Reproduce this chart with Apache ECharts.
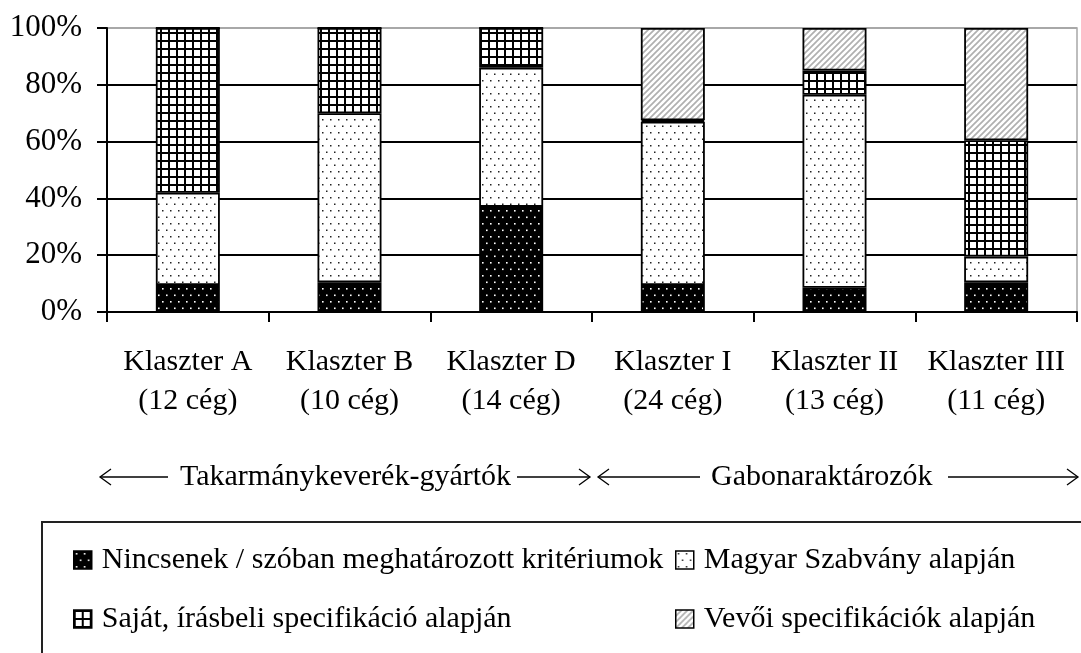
<!DOCTYPE html>
<html>
<head>
<meta charset="utf-8">
<script src="https://cdn.jsdelivr.net/npm/echarts@6/dist/echarts.min.js"></script>
<style>
  body { margin: 0; background: #fff; }
  #chart { width: 1081px; height: 653px; }
</style>
</head>
<body>
<div id="chart"></div>
<script>
// kategóriák és cégszámok
const categories = ['Klaszter A', 'Klaszter B', 'Klaszter D', 'Klaszter I', 'Klaszter II', 'Klaszter III'];
const companyCounts = ['(12 cég)', '(10 cég)', '(14 cég)', '(24 cég)', '(13 cég)', '(11 cég)'];
const yTicks = [0, 20, 40, 60, 80, 100];

// százalékos megoszlás
const nincsenek = [9.5, 10.5, 37, 9.5, 8.5, 10.5];
const magyar = [32.5, 59.5, 49, 57.5, 68, 9];
const sajat = [58, 30, 14, 0.5, 8.5, 41];
const vevoi = [0, 0, 0, 32.5, 15, 39.5];

const seriesNames = [
  'Nincsenek / szóban meghatározott kritériumok',
  'Magyar Szabvány alapján',
  'Saját, írásbeli specifikáció alapján',
  'Vevői specifikációk alapján'
];

const FONT = 'Liberation Serif';

// mintázatok canvas-szal
function dotPattern(bg, fg, size) {
  const c = document.createElement('canvas');
  c.width = 8; c.height = 13;
  const g = c.getContext('2d');
  g.fillStyle = bg; g.fillRect(0, 0, 8, 13);
  g.fillStyle = fg;
  g.fillRect(2, 2, size, size);
  g.fillRect(6, 8.5, size, size);
  return c;
}
function gridPattern() {
  const c = document.createElement('canvas');
  c.width = 8; c.height = 8;
  const g = c.getContext('2d');
  g.fillStyle = '#fff'; g.fillRect(0, 0, 8, 8);
  g.fillStyle = '#000';
  g.fillRect(0, 0, 8, 2);
  g.fillRect(0, 0, 2, 8);
  return c;
}
function hatchPattern() {
  const c = document.createElement('canvas');
  c.width = 6; c.height = 6;
  const g = c.getContext('2d');
  g.fillStyle = '#fff'; g.fillRect(0, 0, 6, 6);
  g.strokeStyle = '#b0b0b0';
  g.lineWidth = 1.7;
  g.beginPath();
  g.moveTo(-1, 7); g.lineTo(7, -1);
  g.moveTo(-4, 4); g.lineTo(4, -4);
  g.moveTo(2, 10); g.lineTo(10, 2);
  g.stroke();
  return c;
}

const fills = [
  { image: dotPattern('#000', '#fff', 1.6), repeat: 'repeat' },
  { image: dotPattern('#fff', '#222', 1.5), repeat: 'repeat' },
  { image: gridPattern(), repeat: 'repeat' },
  { image: hatchPattern(), repeat: 'repeat' }
];
const values = [nincsenek, magyar, sajat, vevoi];

const myChart = echarts.init(document.getElementById('chart'));

// nyilak a csoportfeliratokhoz
function arrow(x1, x2, y, headAt) {
  const h = headAt;
  const dir = h === x1 ? 1 : -1;
  return [
    { type: 'line', shape: { x1: x1, y1: y, x2: x2, y2: y }, style: { stroke: '#000', lineWidth: 1.5 } },
    { type: 'polyline', shape: { points: [[h + dir * 11, y - 8], [h, y], [h + dir * 11, y + 8]] },
      style: { stroke: '#000', lineWidth: 1.3, fill: null } }
  ];
}

const legendPos = [
  { left: 73, top: 545 },
  { left: 675, top: 545 },
  { left: 73, top: 604 },
  { left: 675, top: 604 }
];

const option = {
  animation: false,
  textStyle: { fontFamily: FONT },
  grid: {
    left: 107, right: 4, top: 28, bottom: 341,
    show: true, borderColor: '#a8a8a8', borderWidth: 1.5, backgroundColor: 'transparent'
  },
  xAxis: {
    type: 'category',
    data: categories,
    axisLine: { lineStyle: { color: '#000', width: 2 } },
    axisTick: { show: true, interval: 0, length: 10, lineStyle: { color: '#000', width: 2 } },
    axisLabel: {
      interval: 0,
      margin: 31,
      color: '#000',
      fontSize: 30,
      lineHeight: 39,
      fontFamily: FONT,
      formatter: function (value, idx) {
        return value + '\n' + companyCounts[idx];
      }
    }
  },
  yAxis: {
    type: 'value',
    min: yTicks[0],
    max: yTicks[yTicks.length - 1],
    interval: 20,
    axisLine: { show: true, lineStyle: { color: '#000', width: 2 } },
    axisTick: { show: true, length: 10, lineStyle: { color: '#000', width: 2 } },
    axisLabel: { color: '#000', fontSize: 31, margin: 25, fontFamily: FONT, formatter: '{value}%' },
    splitLine: { lineStyle: { color: ['#000', '#000', '#000', '#000', '#000', '#a8a8a8'], width: 1.8 } }
  },
  legend: legendPos.map(function (p, i) {
    return {
      data: [seriesNames[i]],
      left: p.left,
      top: p.top,
      padding: 0,
      icon: 'rect',
      itemWidth: 18,
      itemHeight: 18,
      selectedMode: false,
      itemStyle: { borderColor: '#000', borderWidth: 1.5 },
      textStyle: { fontSize: 30, fontFamily: FONT, color: '#000', padding: [0, 0, 0, 5], lineHeight: 30 }
    };
  }),
  graphic: [
    { type: 'rect', shape: { x: 42, y: 522, width: 1100, height: 300 },
      style: { fill: null, stroke: '#222', lineWidth: 2 } }
  ].concat(
    arrow(100, 168, 477, 100),
    arrow(517, 590, 477, 590),
    arrow(598, 700, 477, 598),
    arrow(948, 1078, 477, 1078),
    [
      { type: 'text', x: 180, y: 477, style: { text: 'Takarmánykeverék-gyártók', font: '30px "Liberation Serif"', fill: '#000', verticalAlign: 'middle' } },
      { type: 'text', x: 711, y: 477, style: { text: 'Gabonaraktározók', font: '30px "Liberation Serif"', fill: '#000', verticalAlign: 'middle' } }
    ]
  ),
  series: seriesNames.map(function (name, i) {
    return {
      name: name,
      type: 'bar',
      stack: 'total',
      barWidth: 64,
      itemStyle: { color: fills[i], borderColor: '#000', borderWidth: 1.8 },
      data: values[i]
    };
  })
};

myChart.setOption(option);
</script>
</body>
</html>
